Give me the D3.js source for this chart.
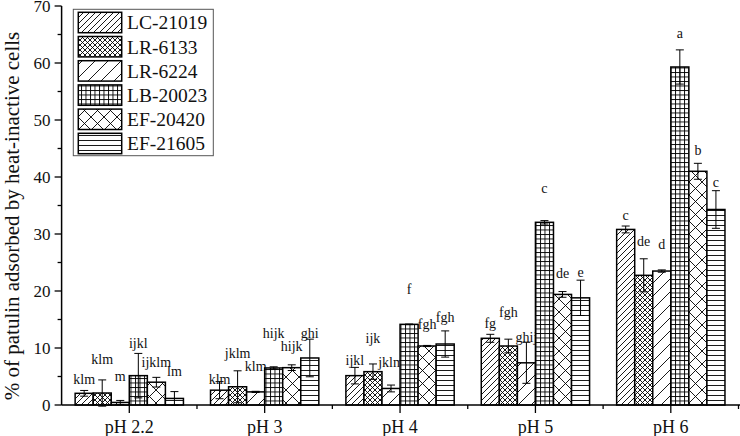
<!DOCTYPE html>
<html><head><meta charset="utf-8">
<script src="https://cdn.jsdelivr.net/npm/d3@7"></script>
<style>body{margin:0;background:#fff}svg{display:block;font-family:"Liberation Serif","Times New Roman",serif}</style>
</head><body><svg id="c" width="740" height="436"></svg>
<script>
const categories = ["pH 2.2","pH 3","pH 4","pH 5","pH 6"];
const series = ["LC-21019","LR-6133","LR-6224","LB-20023","EF-20420","EF-21605"];
const valLC21019 = [2.05, 2.6, 5.15, 11.7, 30.8];
const valLR6133  = [2.1, 3.2, 5.85, 10.35, 22.75];
const valLR6224  = [0.45, 2.3, 2.9, 7.4, 23.5];
const valLB20023 = [5.15, 6.5, 14.15, 32.05, 59.3];
const valEF20420 = [4.0, 6.55, 10.35, 19.4, 41.0];
const valEF21605 = [1.15, 8.25, 10.7, 18.8, 34.3];
const errLC21019 = [0.5, 1.5, 1.45, 0.7, 0.6];
const errLR6133  = [2.3, 2.8, 1.35, 1.2, 2.9];
const errLR6224  = [0.35, 0.1, 0.6, 3.6, 0.2];
const errLB20023 = [3.9, 0.2, 0.05, 0.3, 3.0];
const errEF20420 = [0.85, 0.5, 0.1, 0.5, 1.4];
const errEF21605 = [1.2, 3.3, 2.3, 3.1, 3.3];
const sigLC21019 = ["klm","klm","ijkl","fg","c"];
const sigLR6133  = ["klm","jklm","ijk","fgh","de"];
const sigLR6224  = ["m","klm","jklm","ghij","d"];
const sigLB20023 = ["ijkl","hijk","f","c","a"];
const sigEF20420 = ["ijklm","hijk","fgh","de","b"];
const sigEF21605 = ["lm","ghi","fgh","e","c"];
// letter heights (in % units) as placed in the original figure
const sigAtLC21019 = [4.4, 4.55, 7.8, 14.3, 33.2];
const sigAtLR6133  = [7.9, 9.05, 11.6, 16.3, 28.65];
const sigAtLR6224  = [5.0, 6.7, 7.5, 11.9, 28.1];
const sigAtLB20023 = [10.8, 12.6, 20.2, 37.9, 65.2];
const sigAtEF20420 = [7.5, 10.2, 14.2, 23.0, 44.6];
const sigAtEF21605 = [5.85, 12.6, 15.3, 23.2, 39.0];
const yTicks = [0,10,20,30,40,50,60,70];
const yTitle = "% of patulin adsorbed by heat-inactive cells";

const vals = [valLC21019,valLR6133,valLR6224,valLB20023,valEF20420,valEF21605];
const errs = [errLC21019,errLR6133,errLR6224,errLB20023,errEF20420,errEF21605];
const sigs = [sigLC21019,sigLR6133,sigLR6224,sigLB20023,sigEF20420,sigEF21605];
const sigAt = [sigAtLC21019,sigAtLR6133,sigAtLR6224,sigAtLB20023,sigAtEF20420,sigAtEF21605];

(function(){
const svg = d3.select("#c");
const L = 61.6, R = 738.5, T = 6, B = 405;
const x = d3.scaleBand().domain(categories).range([L, R]).padding(0);
const bw = x.bandwidth();
const x1 = d3.scaleBand().domain(series).range([bw*0.1, bw*0.9]).padding(0);
const y = d3.scaleLinear().domain([0,70]).range([B, T]);

const defs = svg.append("defs");
function pat(id, size, draw){
  const p = defs.append("pattern").attr("id", id).attr("patternUnits","userSpaceOnUse")
    .attr("width", size).attr("height", size);
  p.append("rect").attr("width", size).attr("height", size).attr("fill","#fff");
  draw(p, size);
}
const ln = (p, a, b, c, d) => p.append("line").attr("x1",a).attr("y1",b).attr("x2",c).attr("y2",d)
  .attr("stroke","#000").attr("stroke-width",0.9);
pat("p0", 6, (p,s)=>{ ln(p,0,s,s,0); ln(p,-1,1,1,-1); ln(p,s-1,s+1,s+1,s-1); });
pat("p1", 5, (p,s)=>{ ln(p,0,s,s,0); ln(p,0,0,s,s); });
pat("p2", 13, (p,s)=>{ ln(p,0,s,s,0); ln(p,-1,1,1,-1); ln(p,s-1,s+1,s+1,s-1); });
pat("p3", 4.5, (p,s)=>{ ln(p,0,0.5,s,0.5); ln(p,0.5,0,0.5,s); });
pat("p4", 13, (p,s)=>{ ln(p,0,s,s,0); ln(p,0,0,s,s); });
pat("p5", 5, (p,s)=>{ ln(p,0,0.5,s,0.5); });

const g = svg.append("g");
series.forEach((s, si) => {
  const gs = g.append("g");
  const data = categories.map((c, ci) => ({c, v: vals[si][ci], e: errs[si][ci], t: sigs[si][ci], ty: sigAt[si][ci]}));
  gs.selectAll("rect").data(data).join("rect")
    .attr("x", d => x(d.c) + x1(s)).attr("y", d => y(d.v))
    .attr("width", x1.bandwidth()).attr("height", d => y(0) - y(d.v))
    .attr("fill", `url(#p${si})`).attr("stroke","#000").attr("stroke-width",1.5);
  const cx = d => x(d.c) + x1(s) + x1.bandwidth()/2;
  const eb = gs.selectAll("g.eb").data(data).join("g").attr("class","eb");
  eb.append("line").attr("x1",cx).attr("x2",cx).attr("y1",d=>y(d.v-d.e)).attr("y2",d=>y(d.v+d.e))
    .attr("stroke","#000").attr("stroke-width",1);
  eb.append("line").attr("x1",d=>cx(d)-4).attr("x2",d=>cx(d)+4).attr("y1",d=>y(d.v+d.e)).attr("y2",d=>y(d.v+d.e))
    .attr("stroke","#000").attr("stroke-width",1);
  eb.append("line").attr("x1",d=>cx(d)-4).attr("x2",d=>cx(d)+4).attr("y1",d=>y(d.v-d.e)).attr("y2",d=>y(d.v-d.e))
    .attr("stroke","#000").attr("stroke-width",1);
  gs.selectAll("text").data(data).join("text")
    .attr("x", cx).attr("y", d => y(d.ty)).attr("dy","0.32em")
    .attr("text-anchor","middle").attr("font-size",14).attr("fill","#111").text(d => d.t);
});

const yMinor = d3.range(5, 70, 10);
const ya = svg.append("g");
ya.append("line").attr("x1",L).attr("x2",L).attr("y1",y(0)).attr("y2",y(70)).attr("stroke","#000").attr("stroke-width",1.5);
ya.selectAll("line.mj").data(yTicks).join("line").attr("class","mj")
  .attr("x1",L-7).attr("x2",L).attr("y1",d=>y(d)).attr("y2",d=>y(d)).attr("stroke","#000").attr("stroke-width",1.3);
ya.selectAll("line.mn").data(yMinor).join("line").attr("class","mn")
  .attr("x1",L-4).attr("x2",L).attr("y1",d=>y(d)).attr("y2",d=>y(d)).attr("stroke","#000").attr("stroke-width",1.3);
ya.selectAll("text").data(yTicks).join("text")
  .attr("x",L-11).attr("y",d=>y(d)).attr("dy","0.34em").attr("text-anchor","end")
  .attr("font-size",17).attr("fill","#111").text(d=>d);

const xa = svg.append("g");
xa.append("line").attr("x1",L).attr("x2",740).attr("y1",B).attr("y2",B).attr("stroke","#000").attr("stroke-width",1.5);
xa.selectAll("line.mj").data(categories).join("line").attr("class","mj")
  .attr("x1",d=>x(d)+bw/2).attr("x2",d=>x(d)+bw/2).attr("y1",B).attr("y2",B+8).attr("stroke","#000").attr("stroke-width",1.3);
xa.selectAll("line.mn").data(categories).join("line").attr("class","mn")
  .attr("x1",d=>x(d)+bw).attr("x2",d=>x(d)+bw).attr("y1",B).attr("y2",B+4).attr("stroke","#000").attr("stroke-width",1.3);
xa.selectAll("text").data(categories).join("text")
  .attr("x",d=>x(d)+bw/2).attr("y",433).attr("text-anchor","middle")
  .attr("font-size",18).attr("fill","#111").text(d=>d);

svg.append("text").attr("transform",`translate(19,216) rotate(-90)`)
  .attr("text-anchor","middle").attr("font-size",21).attr("fill","#111").text(yTitle);

const lg = svg.append("g");
lg.append("rect").attr("x",73.3).attr("y",9.3).attr("width",140).attr("height",146.4)
  .attr("fill","#fff").attr("stroke","#555").attr("stroke-width",1);
series.forEach((s, si) => {
  const yy = 12.3 + si*24.2;
  lg.append("rect").attr("x",78.3).attr("y",yy).attr("width",43.4).attr("height",20.4)
    .attr("fill",`url(#p${si})`).attr("stroke","#000").attr("stroke-width",1.5);
  lg.append("text").attr("x",127).attr("y",yy+10.2).attr("dy","0.35em")
    .attr("font-size",19.5).attr("fill","#111").text(s);
});
})();
</script></body></html>
